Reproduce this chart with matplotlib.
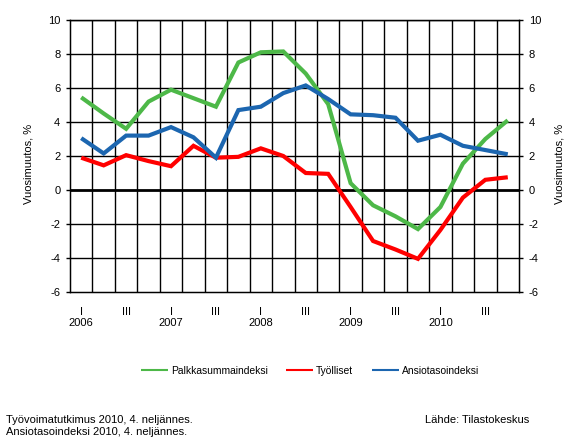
import matplotlib
matplotlib.use('Agg')
import matplotlib.pyplot as plt

plt.rcParams['font.family'] = ['Liberation Sans', 'DejaVu Sans']
plt.rcParams['axes.unicode_minus'] = False

# Quarterly data 2006 Q1 - 2010 Q4, annual change %
quarters = ['I', '', 'III', ''] * 5
years = ['2006', '2007', '2008', '2009', '2010']

palkkasumma = [5.45, 4.5, 3.6, 5.2, 5.9, 5.4, 4.9, 7.5, 8.1, 8.15, 6.85, 5.05,
               0.4, -0.9, -1.55, -2.3, -1.0, 1.55, 3.0, 4.1]
tyolliset = [1.9, 1.45, 2.05, 1.7, 1.4, 2.6, 1.9, 1.95, 2.45, 2.0, 1.0, 0.95,
             -1.0, -3.0, -3.5, -4.05, -2.35, -0.45, 0.6, 0.75]
ansiotaso = [3.05, 2.15, 3.2, 3.2, 3.7, 3.1, 1.9, 4.7, 4.9, 5.7, 6.15, 5.35,
             4.45, 4.4, 4.25, 2.9, 3.25, 2.6, 2.35, 2.1]

series_names = ['Palkkasummaindeksi', 'Työlliset', 'Ansiotasoindeksi']
colors = ['#4DB848', '#FF0000', '#1C66B0']

W, H = 588, 443
fig = plt.figure(figsize=(W / 100, H / 100), dpi=100)
ax = fig.add_axes([70 / W, (H - 292) / H, 449 / W, 272 / H])

n = len(palkkasumma)
x = list(range(n))

# grid
for k in range(n - 1):
    ax.axvline(k + 0.5, color='black', lw=1.0, zorder=1)
for v in range(-4, 11, 2):
    ax.axhline(v, color='black', lw=2.0 if v == 0 else 1.0, zorder=1)

lines = []
for vals, name, c in zip([palkkasumma, tyolliset, ansiotaso], series_names, colors):
    ln, = ax.plot(x, vals, color=c, lw=3.0, label=name, zorder=3,
                  solid_capstyle='butt', solid_joinstyle='miter')
    lines.append(ln)

ax.set_xlim(-0.5, n - 0.5)
ax.set_ylim(-6, 10)
ax.set_yticks(range(-6, 11, 2))
ax.tick_params(axis='y', length=3, width=1, labelsize=8, pad=4)

labels = []
for i in range(n):
    lab = quarters[i]
    if i % 4 == 0:
        lab = lab + '\n' + years[i // 4]
    labels.append(lab)
ax.set_xticks(x)
ax.set_xticklabels(labels, fontsize=8, linespacing=1.05, va='top')
ax.tick_params(axis='x', length=0, pad=11)

for s in ax.spines.values():
    s.set_linewidth(1.0)
ax.set_ylabel('Vuosimuutos, %', fontsize=8)
ax.yaxis.set_label_coords(-0.082, 0.47)

ax2 = ax.twinx()
ax2.set_ylim(-6, 10)
ax2.set_yticks(range(-6, 11, 2))
ax2.tick_params(axis='y', length=3, width=1, labelsize=8, pad=4)
ax2.set_ylabel('Vuosimuutos, %', fontsize=8, rotation=90)
ax2.yaxis.set_label_coords(1.08, 0.47)

fig.legend(lines, series_names, loc='center', bbox_to_anchor=(310 / W, 1 - 371 / H),
           ncol=3, frameon=False, fontsize=7.4, handlelength=2.6, handletextpad=0.3,
           columnspacing=1.8, borderaxespad=0)
for lh in fig.legends[0].get_lines():
    lh.set_linewidth(1.5)

fig.text(6 / W, 1 - 420 / H, 'Työvoimatutkimus 2010, 4. neljännes.', fontsize=8, va='center')
fig.text(6 / W, 1 - 432 / H, 'Ansiotasoindeksi 2010, 4. neljännes.', fontsize=8, va='center')
fig.text(425 / W, 1 - 420 / H, 'Lähde: Tilastokeskus', fontsize=8, va='center')

fig.savefig('out.png', dpi=100)
